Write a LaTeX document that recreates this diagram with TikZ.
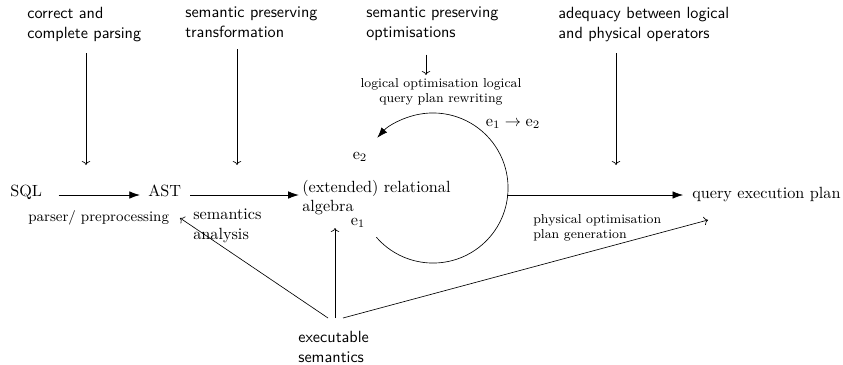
\documentclass[tikz,border=0pt]{standalone}
\usetikzlibrary{arrows.meta}
\begin{document}
\begin{tikzpicture}[x=0.617pt,y=-0.617pt,
  lbl/.style={inner sep=0pt, font=\sffamily, align=left, anchor=north west},
  txt/.style={inner sep=0pt},
  small/.style={inner sep=0pt, font=\footnotesize},
  fat/.style={-{Latex[length=6.5pt,width=4.6pt]}},
  thin/.style={->}]
\useasboundingbox (0,0) rectangle (843,364);
% top labels
\node[lbl] (t1) at (27,7) {correct and\\complete parsing};
\node[lbl] (t2) at (185,7) {semantic preserving\\transformation};
\node[lbl] (t3) at (366,7) {semantic preserving\\optimisations};
\node[lbl] (t4) at (558,7) {adequacy between logical\\and physical operators};
% main row
\node[txt, anchor=base west] (sql) at (10,196) {SQL};
\node[txt, anchor=base west] (ast) at (148,196) {AST};
\node[txt, anchor=north west, align=left] (alg) at (302,180) {(extended) relational\\algebra};
\node[txt, anchor=base west] (qep) at (692,198) {query execution plan};
% labels
\node[txt, anchor=base west, font=\small] (pp) at (28,221) {parser/ preprocessing};
\node[txt, anchor=north west, align=left] (sa) at (193,209) {semantics\\analysis};
\node[small, anchor=north west, align=left] (po) at (533,214) {physical optimisation\\plan generation};
\node[small, anchor=north, align=center] (lo) at (441,78) {logical optimisation logical\\query plan rewriting};
\node[txt] (e12) at (513,124) {$\mathrm{e}_1 \rightarrow \mathrm{e}_2$};
\node[txt] (e2) at (360,157) {$\mathrm{e}_2$};
\node[txt] (e1) at (358,223) {$\mathrm{e}_1$};
\node[lbl] (ex) at (298,331) {executable\\semantics};
% coordinates
\coordinate (row) at (0,195);
\coordinate (d1) at (86,165);
\coordinate (d2) at (237,165);
\coordinate (d3) at (426,75);
\coordinate (d4) at (616,165);
\coordinate (cc) at (433,188);
\coordinate (circR) at (507,195);
\coordinate (x1) at (328,318);
\coordinate (x2) at (335,318);
\coordinate (x3) at (343,318);
\coordinate (astS) at (180,218);
\coordinate (algS) at (335,228);
\coordinate (qepS) at (708,220);
% top arrows
\draw[thin, shorten <=7pt] (t1.south -| d1) -- (d1);
\draw[thin, shorten <=7pt] (t2.south -| d2) -- (d2);
\draw[thin, shorten <=8.5pt] (t3.south -| d3) -- (d3);
\draw[thin, shorten <=7pt] (t4.south -| d4) -- (d4);
% main arrows
\draw[fat, shorten <=10pt, shorten >=5pt] (sql.east |- row) -- (ast.west |- row);
\draw[fat, shorten <=5.5pt, shorten >=2pt] (ast.east |- row) -- (alg.west |- row);
\draw[fat, shorten >=5.5pt] (circR) -- (circR -| qep.west);
% loop
\draw[fat] ([shift={(-139:46.3pt)}]cc) arc[start angle=-139, end angle=138, radius=46.3pt];
% executable semantics arrows
\draw[thin] (x1) -- (astS);
\draw[thin] (x2) -- (algS);
\draw[thin] (x3) -- (qepS);
\end{tikzpicture}
\end{document}
